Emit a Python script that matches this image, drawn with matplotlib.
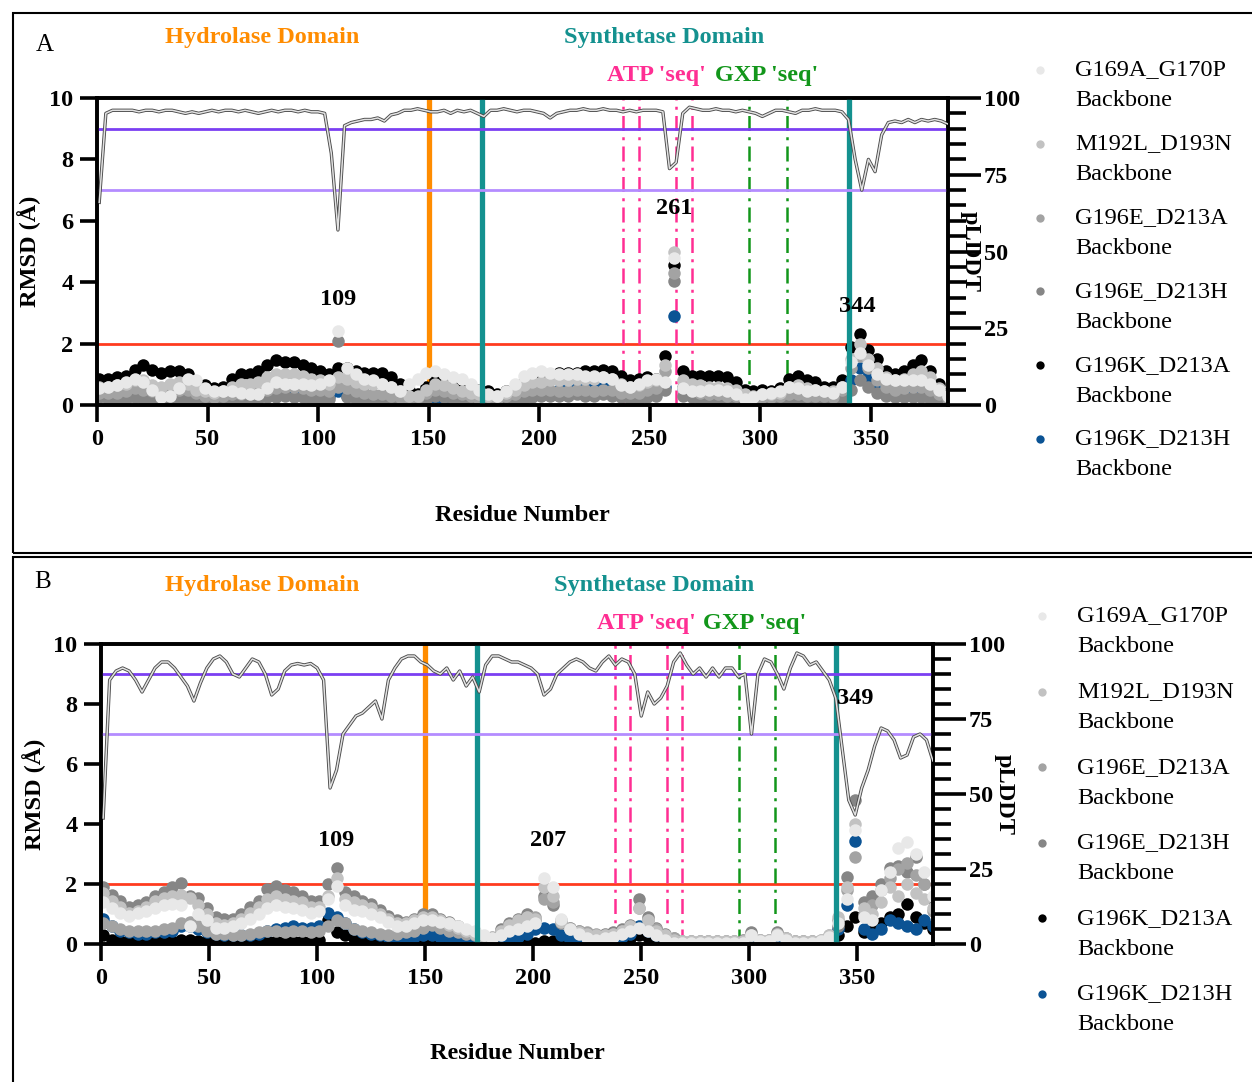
import numpy as np
import matplotlib
matplotlib.use("Agg")
import matplotlib.pyplot as plt
from matplotlib.patches import Rectangle
from matplotlib.lines import Line2D
from matplotlib.ticker import MultipleLocator

plt.rcParams['font.family'] = ['Liberation Serif', 'DejaVu Serif']
plt.rcParams['font.weight'] = 'bold'

# ---------------------------------------------------------------- data
variants = ["G169A_G170P", "M192L_D193N", "G196E_D213A",
            "G196E_D213H", "G196K_D213A", "G196K_D213H"]
variant_colors = ["#E8E8E8", "#C2C2C2", "#A3A3A3", "#868686", "#000000", "#0B5394"]

rmsd_res = list(range(1, 386, 4))      # residues sampled for per-residue RMSD
plddt_res = list(range(1, 386, 3))     # residues sampled for pLDDT

# Panel A: per-residue backbone RMSD (Angstrom)
rmsd_a = {
    "G169A_G170P": [
        0.55, 0.6, 0.65, 0.75, 0.85, 0.75, 0.5, 0.25, 0.3, 0.55,
        0.85, 0.8, 0.55, 0.45, 0.45, 0.45, 0.4, 0.35, 0.35, 0.55,
        0.75, 0.7, 0.7, 0.7, 0.65, 0.7, 0.8, 2.4, 1.2, 1.0,
        0.85, 0.8, 0.7, 0.6, 0.45, 0.7, 0.85, 1.05, 1.1, 1.0,
        0.9, 0.85, 0.7, 0.5, 0.35, 0.3, 0.45, 0.7, 0.95, 1.05,
        1.1, 1.05, 1.0, 1.0, 1.0, 0.95, 0.95, 0.9, 0.85, 0.65,
        0.6, 0.7, 0.8, 0.85, 0.75, 4.8, 0.55, 0.45, 0.45, 0.5,
        0.5, 0.45, 0.35, 0.2, 0.25, 0.35, 0.4, 0.45, 0.6, 0.55,
        0.45, 0.5, 0.45, 0.4, 0.6, 1.4, 1.7, 1.3, 1.0, 0.85,
        0.8, 0.8, 0.8, 0.8, 0.7, 0.5, 0.3],
    "M192L_D193N": [
        0.6, 0.6, 0.65, 0.7, 0.8, 0.8, 0.65, 0.6, 0.7, 0.75,
        0.7, 0.5, 0.45, 0.4, 0.45, 0.6, 0.7, 0.7, 0.75, 0.9,
        1.0, 1.0, 1.0, 0.95, 0.85, 0.8, 0.7, 0.9, 0.85, 0.75,
        0.7, 0.7, 0.7, 0.6, 0.45, 0.3, 0.3, 0.5, 0.7, 0.65,
        0.55, 0.45, 0.4, 0.35, 0.3, 0.3, 0.4, 0.5, 0.65, 0.75,
        0.75, 0.8, 0.8, 0.8, 0.85, 0.85, 0.85, 0.9, 0.85, 0.7,
        0.6, 0.65, 0.75, 0.8, 1.3, 5.0, 0.8, 0.7, 0.65, 0.6,
        0.6, 0.55, 0.5, 0.35, 0.3, 0.35, 0.35, 0.4, 0.6, 0.65,
        0.55, 0.5, 0.45, 0.45, 0.6, 1.5, 2.0, 1.5, 1.2, 0.9,
        0.8, 0.85, 1.0, 1.1, 0.9, 0.55, 0.3],
    "G196E_D213A": [
        0.4, 0.4, 0.4, 0.45, 0.55, 0.5, 0.45, 0.45, 0.5, 0.5,
        0.5, 0.4, 0.3, 0.25, 0.3, 0.35, 0.35, 0.4, 0.45, 0.5,
        0.55, 0.6, 0.6, 0.55, 0.5, 0.5, 0.45, 0.6, 0.55, 0.45,
        0.4, 0.35, 0.35, 0.3, 0.25, 0.2, 0.25, 0.4, 0.5, 0.45,
        0.4, 0.35, 0.3, 0.2, 0.2, 0.2, 0.3, 0.35, 0.45, 0.5,
        0.5, 0.5, 0.45, 0.45, 0.5, 0.5, 0.45, 0.5, 0.5, 0.4,
        0.4, 0.4, 0.5, 0.55, 1.1, 4.3, 0.6, 0.5, 0.4, 0.35,
        0.35, 0.3, 0.3, 0.25, 0.2, 0.25, 0.25, 0.3, 0.35, 0.35,
        0.3, 0.3, 0.3, 0.25, 0.5, 1.2, 1.6, 1.2, 0.8, 0.6,
        0.5, 0.55, 0.6, 0.6, 0.5, 0.35, 0.2],
    "G196E_D213H": [
        0.25, 0.2, 0.2, 0.2, 0.25, 0.2, 0.15, 0.15, 0.15, 0.2,
        0.2, 0.2, 0.15, 0.1, 0.1, 0.15, 0.2, 0.2, 0.2, 0.25,
        0.25, 0.3, 0.25, 0.25, 0.2, 0.2, 0.2, 2.1, 0.25, 0.2,
        0.2, 0.15, 0.15, 0.1, 0.1, 0.1, 0.15, 0.2, 0.3, 0.25,
        0.2, 0.15, 0.15, 0.1, 0.1, 0.1, 0.15, 0.15, 0.2, 0.25,
        0.3, 0.3, 0.3, 0.3, 0.35, 0.3, 0.3, 0.35, 0.3, 0.25,
        0.2, 0.2, 0.25, 0.3, 0.5, 4.05, 0.3, 0.25, 0.2, 0.2,
        0.2, 0.15, 0.15, 0.1, 0.1, 0.1, 0.1, 0.1, 0.15, 0.15,
        0.15, 0.1, 0.1, 0.1, 0.2, 0.5, 0.8, 0.6, 0.4, 0.3,
        0.25, 0.25, 0.25, 0.25, 0.2, 0.2, 0.15],
    "G196K_D213A": [
        0.85, 0.85, 0.9, 0.95, 1.15, 1.3, 1.15, 1.05, 1.1, 1.1,
        1.0, 0.75, 0.65, 0.55, 0.6, 0.85, 1.0, 1.0, 1.1, 1.3,
        1.45, 1.4, 1.4, 1.3, 1.2, 1.1, 1.0, 1.2, 1.2, 1.1,
        1.05, 1.05, 1.05, 0.9, 0.7, 0.5, 0.35, 0.6, 0.8, 0.75,
        0.6, 0.5, 0.45, 0.5, 0.45, 0.35, 0.45, 0.55, 0.75, 0.8,
        0.85, 0.95, 1.05, 1.05, 1.05, 1.1, 1.1, 1.15, 1.1, 0.95,
        0.8, 0.85, 0.9, 0.85, 1.6, 4.55, 1.1, 0.95, 0.95, 0.95,
        0.95, 0.9, 0.75, 0.5, 0.45, 0.5, 0.45, 0.55, 0.85, 0.95,
        0.8, 0.75, 0.6, 0.6, 0.8, 1.9, 2.3, 1.8, 1.5, 1.1,
        1.0, 1.1, 1.3, 1.45, 1.1, 0.7, 0.4],
    "G196K_D213H": [
        0.3, 0.3, 0.3, 0.35, 0.45, 0.35, 0.25, 0.2, 0.25, 0.3,
        0.3, 0.25, 0.2, 0.2, 0.2, 0.25, 0.25, 0.25, 0.3, 0.35,
        0.4, 0.4, 0.35, 0.4, 0.35, 0.35, 0.3, 0.45, 0.3, 0.25,
        0.25, 0.2, 0.2, 0.2, 0.15, 0.15, 0.15, 0.2, 0.25, 0.2,
        0.2, 0.15, 0.15, 0.15, 0.1, 0.1, 0.15, 0.2, 0.3, 0.4,
        0.45, 0.45, 0.5, 0.55, 0.6, 0.55, 0.6, 0.65, 0.7, 0.6,
        0.5, 0.45, 0.45, 0.4, 0.6, 2.9, 0.55, 0.5, 0.45, 0.4,
        0.35, 0.3, 0.25, 0.15, 0.1, 0.15, 0.15, 0.15, 0.2, 0.15,
        0.15, 0.1, 0.1, 0.15, 0.3, 0.8, 1.2, 0.9, 0.6, 0.4,
        0.3, 0.3, 0.3, 0.3, 0.25, 0.2, 0.15],
}

# Panel B: per-residue backbone RMSD (Angstrom)
rmsd_b = {
    "G169A_G170P": [
        1.4, 1.2, 1.05, 0.95, 1.05, 1.1, 1.2, 1.3, 1.35, 1.3,
        0.6, 1.0, 0.8, 0.55, 0.55, 0.6, 0.7, 0.85, 1.0, 1.2,
        1.3, 1.25, 1.2, 1.15, 1.05, 1.1, 1.5, 1.95, 1.3, 1.15,
        1.1, 1.0, 0.9, 0.75, 0.6, 0.6, 0.7, 0.8, 0.8, 0.75,
        0.7, 0.6, 0.5, 0.45, 0.3, 0.2, 0.3, 0.45, 0.5, 0.6,
        0.7, 2.2, 1.9, 0.85, 0.5, 0.35, 0.2, 0.15, 0.2, 0.25,
        0.35, 0.45, 0.55, 0.45, 0.3, 0.15, 0.05, 0.05, 0.05, 0.05,
        0.05, 0.05, 0.05, 0.05, 0.05, 0.3, 0.1, 0.1, 0.3, 0.15,
        0.05, 0.05, 0.05, 0.1, 0.25, 0.7, 1.5, 3.8, 0.9, 0.8,
        1.8, 2.4, 3.2, 3.4, 3.0, 2.4, 1.6],
    "M192L_D193N": [
        1.7, 1.45, 1.25, 1.05, 1.1, 1.25, 1.45, 1.55, 1.6, 1.65,
        1.55, 1.3, 1.0, 0.7, 0.65, 0.7, 0.85, 1.05, 1.25, 1.5,
        1.6, 1.5, 1.45, 1.4, 1.25, 1.25, 1.6, 2.2, 1.5, 1.4,
        1.3, 1.2, 1.0, 0.85, 0.7, 0.7, 0.8, 0.9, 0.9, 0.8,
        0.65, 0.55, 0.45, 0.35, 0.2, 0.2, 0.45, 0.65, 0.8, 0.9,
        0.85, 1.9, 1.6, 0.75, 0.5, 0.4, 0.35, 0.3, 0.3, 0.35,
        0.45, 0.6, 1.2, 0.8, 0.45, 0.3, 0.15, 0.1, 0.1, 0.1,
        0.1, 0.1, 0.1, 0.1, 0.1, 0.3, 0.15, 0.15, 0.35, 0.2,
        0.1, 0.1, 0.1, 0.15, 0.3, 0.9, 1.9, 4.0, 1.2, 1.0,
        1.4, 1.9, 1.6, 2.0, 1.7, 1.5, 1.2],
    "G196E_D213A": [
        0.7, 0.6, 0.5, 0.45, 0.45, 0.45, 0.45, 0.5, 0.55, 0.7,
        0.75, 0.6, 0.45, 0.35, 0.35, 0.3, 0.3, 0.35, 0.4, 0.45,
        0.45, 0.4, 0.45, 0.45, 0.4, 0.45, 0.6, 0.8, 0.7, 0.5,
        0.45, 0.4, 0.35, 0.3, 0.35, 0.4, 0.45, 0.55, 0.65, 0.55,
        0.45, 0.4, 0.35, 0.3, 0.2, 0.25, 0.4, 0.55, 0.7, 0.9,
        0.9, 1.5, 1.4, 0.8, 0.55, 0.45, 0.4, 0.35, 0.3, 0.35,
        0.45, 0.6, 1.2, 0.8, 0.5, 0.3, 0.2, 0.1, 0.1, 0.1,
        0.1, 0.1, 0.1, 0.1, 0.1, 0.3, 0.15, 0.15, 0.35, 0.2,
        0.1, 0.1, 0.1, 0.15, 0.3, 0.8, 1.8, 2.9, 1.0, 1.3,
        1.8, 2.2, 2.5, 2.7, 2.3, 2.0, 1.1],
    "G196E_D213H": [
        1.9, 1.65, 1.45, 1.25, 1.3, 1.4, 1.6, 1.75, 1.9, 2.05,
        1.6, 1.55, 1.2, 0.9, 0.85, 0.85, 1.0, 1.25, 1.45, 1.85,
        1.95, 1.8, 1.75, 1.6, 1.45, 1.45, 2.0, 2.55, 1.75, 1.6,
        1.45, 1.35, 1.15, 0.95, 0.8, 0.75, 0.85, 1.0, 1.0, 0.85,
        0.75, 0.6, 0.45, 0.4, 0.2, 0.15, 0.5, 0.7, 0.85, 1.0,
        0.8, 1.6, 1.3, 0.7, 0.55, 0.45, 0.35, 0.3, 0.35, 0.4,
        0.5, 0.65, 1.5, 0.9, 0.55, 0.35, 0.2, 0.1, 0.1, 0.1,
        0.1, 0.1, 0.1, 0.1, 0.15, 0.4, 0.15, 0.15, 0.4, 0.2,
        0.1, 0.1, 0.1, 0.1, 0.15, 0.6, 2.25, 4.8, 1.4, 1.6,
        2.0, 2.55, 2.6, 2.4, 2.9, 2.0, 1.5],
    "G196K_D213A": [
        0.3, 0.15, 0.1, 0.1, 0.1, 0.1, 0.1, 0.1, 0.1, 0.15,
        0.15, 0.1, 0.1, 0.1, 0.05, 0.05, 0.05, 0.05, 0.05, 0.1,
        0.1, 0.1, 0.1, 0.1, 0.1, 0.15, 0.8, 0.4, 0.3, 0.2,
        0.15, 0.1, 0.1, 0.05, 0.05, 0.05, 0.1, 0.15, 0.2, 0.1,
        0.1, 0.05, 0.05, 0.05, 0.05, 0.05, 0.05, 0.05, 0.05, 0.05,
        0.05, 0.1, 0.1, 0.05, 0.05, 0.05, 0.05, 0.05, 0.05, 0.1,
        0.15, 0.2, 0.3, 0.25, 0.15, 0.1, 0.05, 0.05, 0.05, 0.05,
        0.05, 0.05, 0.05, 0.05, 0.05, 0.05, 0.05, 0.05, 0.05, 0.05,
        0.05, 0.05, 0.05, 0.05, 0.1, 0.3, 0.6, 0.9, 0.4, 0.6,
        0.7, 0.9, 1.0, 1.35, 0.9, 0.7, 0.5],
    "G196K_D213H": [
        0.85, 0.6, 0.45, 0.4, 0.35, 0.35, 0.4, 0.4, 0.45, 0.6,
        0.6, 0.5, 0.4, 0.35, 0.3, 0.3, 0.3, 0.3, 0.35, 0.45,
        0.5, 0.55, 0.6, 0.55, 0.55, 0.6, 1.05, 0.9, 0.7, 0.5,
        0.4, 0.35, 0.3, 0.25, 0.2, 0.2, 0.25, 0.3, 0.3, 0.25,
        0.2, 0.2, 0.15, 0.15, 0.1, 0.1, 0.15, 0.2, 0.25, 0.35,
        0.5, 0.55, 0.5, 0.3, 0.15, 0.1, 0.1, 0.1, 0.15, 0.2,
        0.25, 0.35, 0.6, 0.45, 0.3, 0.15, 0.05, 0.05, 0.05, 0.05,
        0.05, 0.05, 0.05, 0.05, 0.05, 0.1, 0.05, 0.05, 0.1, 0.05,
        0.05, 0.05, 0.05, 0.05, 0.1, 0.5, 1.3, 3.45, 0.5, 0.35,
        0.5, 0.8, 0.7, 0.6, 0.5, 0.8, 0.6],
}

# Predicted model confidence (pLDDT) along the sequence
plddt_a = [
    66, 95, 96, 96, 96, 96, 95.5, 96, 96, 95.5,
    96, 96, 95.5, 95, 95.5, 95, 95.5, 96, 95.5, 96,
    96, 95.5, 96, 95.5, 95, 95.5, 96, 95.5, 96, 96,
    95.5, 96, 95.5, 95.5, 95, 82, 57, 91, 92, 92.5,
    93, 93, 93.5, 92.5, 94.5, 95, 96, 96, 96.5, 96,
    95.5, 95.5, 96, 95, 96, 95.5, 96, 95, 94, 96,
    96, 96.5, 96, 95.5, 96, 96, 95.5, 95, 93.5, 95,
    95.5, 96, 96, 96.5, 96, 96, 96.5, 96, 96, 95.5,
    96, 95.5, 96, 96, 96, 95.5, 77, 79, 95, 97,
    96.5, 96, 96, 96.5, 96, 96, 95.5, 96, 95.5, 95,
    94, 95, 96, 96, 95.5, 95, 96, 96, 96.5, 96,
    96, 96, 95.5, 93, 80, 70, 80, 76, 88, 92,
    92.5, 92, 93, 92, 93, 92.5, 93, 92.5, 91.5]
plddt_b = [
    42, 88, 91, 92, 91, 88, 84, 88, 92, 94,
    94, 92, 89, 86, 81, 87, 92, 95, 96, 94,
    90, 89, 92, 95, 94, 90, 83, 85, 91, 93,
    93.5, 93, 93.5, 92, 88, 52, 58, 70, 73, 76,
    77, 79, 81, 75, 88, 92, 95, 96, 96, 94,
    93, 91, 90, 92, 88, 91, 86, 89, 84, 93,
    96, 96, 95, 94, 94, 93, 92, 90, 83, 85,
    90, 92, 94, 95, 94, 92, 91, 94, 96, 93,
    95, 94, 90, 76, 84, 80, 82, 86, 94, 97,
    93, 90, 92, 89, 92, 89, 92, 92, 89, 90,
    70, 90, 95, 94, 90, 85, 92, 97, 96, 93,
    94, 91, 88, 82, 65, 48, 43, 52, 58, 66,
    72, 71, 68, 62, 63, 69, 70, 68, 61]

# Region boundaries (residue numbers)
hydrolase_end = 150
synthetase_bounds = [174, 340]
atp_motif = [238, 245, 262, 269]
gxp_motif = [295, 312]

peaks_a = [("109", 109, 3.45), ("261", 261, 6.4), ("344", 344, 3.2)]
peaks_b = [("109", 109, 3.45), ("207", 207, 3.45), ("349", 349, 8.2)]

ORANGE = "#FF8C00"
TEAL = "#14918F"
PINK = "#FF2E93"
GREEN = "#12961A"

# ---------------------------------------------------------------- figure
W, H = 1252, 1082
fig = plt.figure(figsize=(W / 100, H / 100), dpi=100)


def fx(px):
    return px / W


def fy(py):
    return 1 - py / H


FS = 17.5


def draw_panel(rect, rmsd, plddt, peaks, letter, letter_xy, head_y, head_x,
               motif_y, motif_x, ylabel_x, plddt_label_x, xlabel_y,
               legend_x, legend_y, legend_step):
    ax = fig.add_axes(rect)
    ax.set_xlim(0, 385)
    ax.set_ylim(0, 10)

    # reference lines
    ax.axhline(2, color="#FF3B1F", lw=2.0, zorder=1)
    ax.axvline(hydrolase_end, color=ORANGE, lw=3.8, zorder=1)
    for r in atp_motif:
        ax.axvline(r, color=PINK, lw=1.8, ls=(0, (6, 2.5, 1.2, 2.5)), zorder=1)
    for r in gxp_motif:
        ax.axvline(r, color=GREEN, lw=1.8, ls=(0, (6, 2.5, 1.2, 2.5)), zorder=1)

    # per-residue RMSD dots, darkest series first so the lighter ones sit on top
    order = ["G196K_D213A", "G196K_D213H", "G196E_D213H", "G196E_D213A",
             "M192L_D193N", "G169A_G170P"]
    for name in order:
        c = variant_colors[variants.index(name)]
        ax.plot(rmsd_res, rmsd[name], ls="none", marker="o", ms=9.0,
                mfc=c, mec=c, mew=0, zorder=2)

    for r in synthetase_bounds:
        ax.axvline(r, color=TEAL, lw=3.8, zorder=3)

    for txt, x, y in peaks:
        ax.text(x, y, txt, ha="center", va="center", fontsize=FS,
                fontweight="bold", zorder=6)

    ax.set_xticks(range(0, 351, 50))
    ax.set_yticks(range(0, 11, 2))
    ax.tick_params(axis="both", which="major", direction="out", length=12,
                   width=2.6, labelsize=FS, pad=5)
    for s in ax.spines.values():
        s.set_linewidth(2.6)
    ax.set_ylabel("RMSD (Å)", fontsize=FS, fontweight="bold")
    ax.yaxis.set_label_coords(ylabel_x, 0.5)
    ax.set_xlabel("Residue Number", fontsize=FS, fontweight="bold")
    ax.xaxis.set_label_coords(0.5, xlabel_y)

    ax2 = ax.twinx()
    ax2.set_ylim(0, 100)
    ax2.axhline(90, color="#7B3FF2", lw=2.0, zorder=1)
    ax2.axhline(70, color="#B48CFF", lw=2.0, zorder=1)
    ax2.plot(plddt_res, plddt, color="#4A4A4A", lw=2.4, zorder=2)
    ax2.plot(plddt_res, plddt, color="#E2E2E2", lw=1.1, zorder=3)
    ax2.set_yticks(range(0, 101, 25))
    ax2.yaxis.set_minor_locator(MultipleLocator(5))
    ax2.tick_params(axis="y", which="major", direction="out", length=24,
                    width=2.6, labelsize=FS, pad=2)
    ax2.tick_params(axis="y", which="minor", direction="out", length=13,
                    width=2.6)
    for s in ax2.spines.values():
        s.set_linewidth(2.6)
    ax2.set_ylabel("pLDDT", fontsize=FS, fontweight="bold", rotation=-90,
                   va="center")
    ax2.yaxis.set_label_coords(plddt_label_x, 0.5)

    # headings above the plot
    hx_h, hx_s = head_x
    fig.text(fx(hx_h), fy(head_y), "Hydrolase Domain", color=ORANGE,
             ha="center", va="center", fontsize=FS, fontweight="bold")
    fig.text(fx(hx_s), fy(head_y), "Synthetase Domain", color=TEAL,
             ha="center", va="center", fontsize=FS, fontweight="bold")
    mx_a, mx_g = motif_x
    fig.text(fx(mx_a), fy(motif_y), "ATP 'seq'", color=PINK,
             ha="center", va="center", fontsize=FS, fontweight="bold")
    fig.text(fx(mx_g), fy(motif_y), "GXP 'seq'", color=GREEN,
             ha="center", va="center", fontsize=FS, fontweight="bold")
    fig.text(fx(letter_xy[0]), fy(letter_xy[1]), letter, ha="center",
             va="center", fontsize=18, fontweight="normal")

    # legend: one dot per variant, next to a two-line label
    for i, (name, c) in enumerate(zip(variants, variant_colors)):
        y0 = legend_y + i * legend_step
        fig.add_artist(Line2D([fx(legend_x)], [fy(y0)], ls="none", marker="o",
                              ms=6, mfc=c, mec=c, mew=0,
                              transform=fig.transFigure))
        fig.text(fx(legend_x + 35), fy(y0), name, ha="left", va="center",
                 fontsize=FS, fontweight="normal")
        fig.text(fx(legend_x + 35), fy(y0 + 31), "Backbone", ha="left",
                 va="center", fontsize=FS, fontweight="normal")
    return ax, ax2


draw_panel([fx(97), fy(405), fx(948) - fx(97), fy(98) - fy(405)],
           rmsd_a, plddt_a, peaks_a, "A", (45, 45), 38, (262, 664),
           76, (656, 767), -0.066, 1.026, -0.325, 1040, 70, 73.8)
draw_panel([fx(101), fy(944), fx(933) - fx(101), fy(644) - fy(944)],
           rmsd_b, plddt_b, peaks_b, "B", (43, 582), 586, (262, 654),
           624, (646, 755), -0.066, 1.086, -0.33, 1042, 616, 75.6)

# panel frames
fig.add_artist(Rectangle((fx(13), fy(553)), 1.2, fy(13) - fy(553),
                         transform=fig.transFigure, fill=False, lw=1.5,
                         ec="black", clip_on=False))
fig.add_artist(Rectangle((fx(13), fy(1100)), 1.2, fy(557) - fy(1100),
                         transform=fig.transFigure, fill=False, lw=1.5,
                         ec="black", clip_on=False))

fig.savefig("out.png", dpi=100)
